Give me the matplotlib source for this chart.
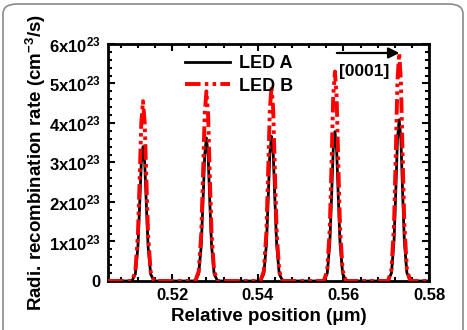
import matplotlib
matplotlib.use('Agg')
import matplotlib.pyplot as plt
from matplotlib.patches import FancyBboxPatch
from matplotlib.ticker import MultipleLocator, FixedLocator

# peak centres (um) and heights (x1e23 cm^-3/s)
peak_pos = [0.5132, 0.5280, 0.5432, 0.5580, 0.5730]
led_a_peak = [3.40, 3.62, 3.66, 3.78, 4.08]
led_b_peak = [4.55, 4.80, 4.92, 5.30, 5.77]

# shape of one peak (offset in um, relative height)
profile_offset = [-0.0026, -0.0018, -0.0012, -0.0008, -0.0004, 0.0,
                  0.0004, 0.0008, 0.0012, 0.0018, 0.0026]
profile_shape = [0.0, 0.05, 0.25, 0.55, 0.88, 1.0, 0.88, 0.55, 0.25, 0.05, 0.0]

x_range = [0.505, 0.58]
y_ticks = [0, 1, 2, 3, 4, 5, 6]
y_ticklabels = ['0', '1x10$^{23}$', '2x10$^{23}$', '3x10$^{23}$',
                '4x10$^{23}$', '5x10$^{23}$', '6x10$^{23}$']
x_ticks = [0.52, 0.54, 0.56, 0.58]


def build_curve(heights):
    xs = [x_range[0]]
    ys = [0.0]
    for p, h in zip(peak_pos, heights):
        for o, s in zip(profile_offset, profile_shape):
            xs.append(p + o)
            ys.append(h * s * 1e23)
    xs.append(x_range[1])
    ys.append(0.0)
    return xs, ys


plt.rcParams['font.family'] = ['Liberation Sans', 'DejaVu Sans']
plt.rcParams['font.weight'] = 'bold'
plt.rcParams['mathtext.fontset'] = 'custom'
plt.rcParams['mathtext.rm'] = 'Liberation Sans:bold'
plt.rcParams['mathtext.bf'] = 'Liberation Sans:bold'
plt.rcParams['mathtext.it'] = 'Liberation Sans:bold:italic'

fig = plt.figure(figsize=(4.67, 3.30), dpi=100)
ax = fig.add_axes([0.231, 0.1485, 0.688, 0.7185])

xa, ya = build_curve(led_a_peak)
xb, yb = build_curve(led_b_peak)
ax.plot(xa, ya, color='black', lw=2.0, label='LED A', zorder=2)
ax.plot(xb, yb, color='#ff0000', lw=2.8, dashes=(4, 1.1, 0.9, 1.1, 0.9, 1.1),
        label='LED B', zorder=3)

ax.set_xlim(x_range)
ax.set_ylim(0, 6e23)
ax.xaxis.set_major_locator(FixedLocator(x_ticks))
ax.xaxis.set_minor_locator(MultipleLocator(0.004))
ax.set_yticks([v * 1e23 for v in y_ticks])
ax.set_yticklabels(y_ticklabels)
ax.yaxis.set_minor_locator(MultipleLocator(0.2e23))
ax.set_xticklabels(['0.52', '0.54', '0.56', '0.58'])
ax.tick_params(which='both', direction='in', top=True, right=True,
               labelsize=12, width=1.5, pad=5)
ax.tick_params(which='major', length=5)
ax.tick_params(which='minor', length=3)
for sp in ax.spines.values():
    sp.set_linewidth(2)

ax.set_xlabel('Relative position (\u03bcm)', fontsize=13.5, fontweight='bold', labelpad=4)
ax.set_ylabel('Radi. recombination rate (cm$^{-3}$/s)', fontsize=13.5,
              fontweight='bold', labelpad=1)

leg = ax.legend(loc='upper left', bbox_to_anchor=(0.19, 1.02), frameon=False,
                fontsize=13, handlelength=2.5, handletextpad=0.5,
                labelspacing=0.3)

ax.annotate('', xy=(0.5737, 5.77e23), xytext=(0.5578, 5.77e23),
            arrowprops=dict(arrowstyle='-|>', color='black', lw=1.6,
                            mutation_scale=16))
ax.text(0.5648, 5.29e23, '[0001]', fontsize=12.5, fontweight='bold',
        ha='center', va='center')

border = FancyBboxPatch((3 / 467, -0.05), 460 / 467, 1.05 - 4 / 330,
                        boxstyle='round,pad=0,rounding_size=0.03',
                        transform=fig.transFigure, fill=False,
                        edgecolor='#8a8a8a', lw=1.2, clip_on=False)
fig.patches.append(border)

fig.savefig('out.png', dpi=100)
